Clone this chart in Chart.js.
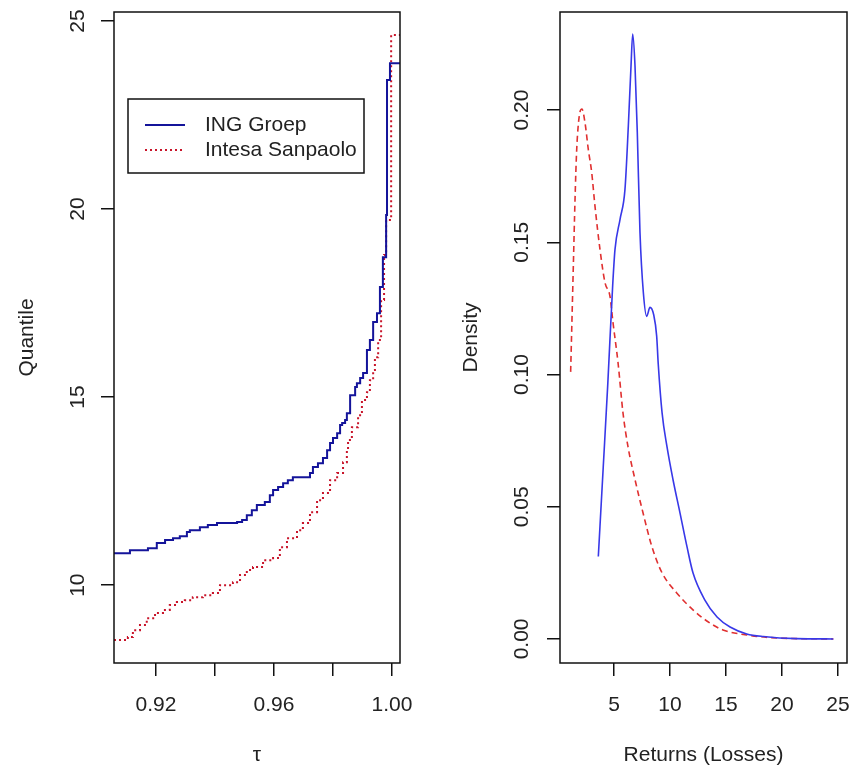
<!DOCTYPE html>
<html>
<head>
<meta charset="utf-8">
<script src="https://cdn.jsdelivr.net/npm/chart.js@4.4.1/dist/chart.umd.min.js"></script>
<style>
  body { margin: 0; background: #fff; }
  #wrap { position: relative; width: 852px; height: 769px; }
  canvas { position: absolute; top: 0; }
  #left { left: 0; }
  #right { left: 426px; }
</style>
</head>
<body>
<div id="wrap">
  <canvas id="left" width="426" height="769"></canvas>
  <canvas id="right" width="426" height="769"></canvas>
</div>
<script>
// left panel: empirical quantiles (step functions)
var tauIng = [0.9058, 0.9112, 0.9173, 0.9203, 0.9231, 0.9258, 0.9281, 0.9305, 0.9315, 0.9349,
  0.9376, 0.9407, 0.9475, 0.9492, 0.9508, 0.9525, 0.9542, 0.9569, 0.9586, 0.9597,
  0.9614, 0.9631, 0.9647, 0.9664, 0.9722, 0.9732, 0.9749, 0.9766, 0.9780, 0.9790,
  0.9800, 0.9814, 0.9824, 0.9831, 0.9841, 0.9847, 0.9858, 0.9875, 0.9881, 0.9892,
  0.9902, 0.9915, 0.9925, 0.9936, 0.9949, 0.9959, 0.9969, 0.9980, 0.9983, 0.9993, 1.0027];
var qIng = [10.85, 10.93, 10.98, 11.12, 11.20, 11.25, 11.30, 11.41, 11.46, 11.54,
  11.60, 11.65, 11.68, 11.73, 11.86, 11.99, 12.13, 12.21, 12.39, 12.53,
  12.61, 12.71, 12.79, 12.87, 12.98, 13.14, 13.24, 13.38, 13.59, 13.78,
  13.91, 14.04, 14.26, 14.31, 14.39, 14.57, 15.05, 15.27, 15.37, 15.51,
  15.64, 16.25, 16.52, 17.00, 17.23, 17.93, 18.72, 19.84, 23.43, 23.88, 23.88];

var tauIsp = [0.9058, 0.9092, 0.9105, 0.9122, 0.9146, 0.9169, 0.9197, 0.9224, 0.9247, 0.9271,
  0.9298, 0.9325, 0.9359, 0.9393, 0.9417, 0.9461, 0.9485, 0.9508, 0.9529, 0.9563,
  0.9597, 0.9620, 0.9644, 0.9678, 0.9698, 0.9722, 0.9746, 0.9766, 0.9790, 0.9814,
  0.9834, 0.9847, 0.9851, 0.9864, 0.9885, 0.9898, 0.9915, 0.9925, 0.9936, 0.9942,
  0.9953, 0.9963, 0.9973, 0.9980, 0.9997, 1.0027];
var qIsp = [8.54, 8.54, 8.62, 8.80, 8.94, 9.12, 9.26, 9.34, 9.47, 9.55,
  9.60, 9.68, 9.73, 9.79, 10.00, 10.08, 10.27, 10.40, 10.48, 10.66,
  10.72, 11.01, 11.25, 11.46, 11.65, 11.94, 12.26, 12.45, 12.79, 12.98,
  13.27, 13.59, 13.86, 14.20, 14.52, 14.92, 15.13, 15.45, 15.72, 16.06,
  16.52, 17.58, 18.78, 19.71, 24.63, 24.63];

var tauTicks = [0.92, 0.94, 0.96, 0.98, 1.00];
var tauTickLabels = ['0.92', '', '0.96', '', '1.00'];
var quantTicks = [10, 15, 20, 25];

// right panel: density of losses
var retIng = [3.60, 4.04, 4.44, 4.88, 5.09, 5.54, 5.98, 6.28, 6.52, 6.67,
  6.875, 7.08, 7.32, 7.62, 7.92, 8.21, 8.55, 8.81, 8.95, 9.29,
  9.73, 10.27, 10.89, 11.52, 12.05, 13.1, 14.2, 15.36, 16.85, 18.33, 21.3, 24.58];
var densIng = [0.0312, 0.065, 0.096, 0.1335, 0.1473, 0.1587, 0.170, 0.194, 0.2168, 0.2288,
  0.2168, 0.1916, 0.1537, 0.131, 0.122, 0.1254, 0.1225, 0.1145, 0.104, 0.0856,
  0.0727, 0.0602, 0.0477, 0.0348, 0.025, 0.0148, 0.0083, 0.0045, 0.0019, 0.0009, 0.0001, 0.0];

var retIsp = [1.13, 1.37, 1.52, 1.67, 1.90, 2.14, 2.41, 2.71, 3.01, 3.30,
  3.75, 4.20, 4.64, 4.91, 5.36, 5.80, 6.25, 6.88, 7.59, 8.39,
  9.29, 10.6, 12.05, 13.57, 14.73, 16.85, 19.82, 24.58];
var densIsp = [0.101, 0.141, 0.166, 0.185, 0.1978, 0.2004, 0.1953, 0.185, 0.1764, 0.1638,
  0.1473, 0.1347, 0.1296, 0.1197, 0.1045, 0.0856, 0.0727, 0.0602, 0.0477, 0.0348,
  0.025, 0.0174, 0.011, 0.006, 0.0034, 0.0015, 0.0003, 0.0];

var retTicks = [5, 10, 15, 20, 25];
var densTicks = [0, 0.05, 0.10, 0.15, 0.20];
var densTickLabels = ['0.00', '0.05', '0.10', '0.15', '0.20'];

Chart.defaults.font.family = '"Liberation Sans", Arial, sans-serif';
Chart.defaults.font.size = 21;
Chart.defaults.color = '#222';

function pts(xs, ys) {
  return xs.map(function (x, i) { return {x: x, y: ys[i]}; });
}

function fixTicks(values) {
  return function (scale) {
    scale.ticks = values.map(function (v) { return {value: v}; });
  };
}

function fixSize(w, h) {
  return function (scale) {
    if (w) scale.width = w;
    if (h) scale.height = h;
    scale.paddingTop = 0; scale.paddingBottom = 0;
    scale.paddingLeft = 0; scale.paddingRight = 0;
  };
}

var boxFrame = {
  id: 'boxFrame',
  afterDraw: function (chart) {
    var a = chart.chartArea, ctx = chart.ctx;
    ctx.save();
    ctx.strokeStyle = '#111';
    ctx.lineWidth = 1.5;
    ctx.strokeRect(a.left, a.top, a.right - a.left, a.bottom - a.top);
    ctx.restore();
  }
};

var legendBox = {
  id: 'legendBox',
  afterDraw: function (chart) {
    var ctx = chart.ctx;
    ctx.save();
    ctx.fillStyle = '#fff';
    ctx.fillRect(128, 99, 236, 74);
    ctx.strokeStyle = '#111';
    ctx.lineWidth = 1.5;
    ctx.strokeRect(128, 99, 236, 74);
    chart.data.datasets.forEach(function (ds, i) {
      var y = 125 + i * 25;
      ctx.strokeStyle = ds.borderColor;
      ctx.lineWidth = ds.borderWidth;
      ctx.setLineDash(ds.borderDash || []);
      ctx.beginPath(); ctx.moveTo(145, y); ctx.lineTo(185, y); ctx.stroke();
      ctx.setLineDash([]);
      ctx.fillStyle = '#222';
      ctx.font = '21px "Liberation Sans", Arial, sans-serif';
      ctx.textBaseline = 'middle';
      ctx.fillText(ds.label, 205, y);
    });
    ctx.restore();
  }
};

var tickGrid = {drawOnChartArea: false, drawTicks: true, tickLength: 13, color: '#111', lineWidth: 1.5};

// left: quantile plot
new Chart(document.getElementById('left'), {
  type: 'line',
  data: {
    datasets: [
      {
        label: 'ING Groep',
        data: pts(tauIng, qIng),
        borderColor: '#14149a',
        borderWidth: 2,
        stepped: true,
        pointRadius: 0,
        fill: false
      },
      {
        label: 'Intesa Sanpaolo',
        data: pts(tauIsp, qIsp),
        borderColor: '#c8142a',
        borderWidth: 2,
        borderDash: [2, 3],
        stepped: true,
        pointRadius: 0,
        fill: false
      }
    ]
  },
  options: {
    responsive: false,
    animation: false,
    layout: {padding: {left: 0, top: 12, right: 26, bottom: 0}},
    plugins: {legend: {display: false}, tooltip: {enabled: false}},
    scales: {
      x: {
        type: 'linear',
        min: 0.9058,
        max: 1.0027,
        afterBuildTicks: fixTicks(tauTicks),
        afterFit: fixSize(0, 106),
        border: {display: false},
        grid: tickGrid,
        ticks: {
          padding: 17,
          autoSkip: false,
          maxRotation: 0,
          callback: function (v, i) { return tauTickLabels[i]; }
        },
        title: {display: true, text: 'τ', padding: {top: 0, bottom: 1}}
      },
      y: {
        min: 7.93,
        max: 25.24,
        afterBuildTicks: fixTicks(quantTicks),
        afterFit: fixSize(114, 0),
        border: {display: false},
        grid: tickGrid,
        ticks: {
          padding: 11,
          autoSkip: false,
          minRotation: 90,
          maxRotation: 90,
          crossAlign: 'center',
          callback: function (v) { return String(v); }
        },
        title: {display: true, text: 'Quantile', padding: {top: 15, bottom: 0}}
      }
    }
  },
  plugins: [boxFrame, legendBox]
});

// right: density plot
new Chart(document.getElementById('right'), {
  type: 'line',
  data: {
    datasets: [
      {
        label: 'ING Groep',
        data: pts(retIng, densIng),
        borderColor: '#3838e8',
        borderWidth: 1.6,
        cubicInterpolationMode: 'monotone',
        pointRadius: 0,
        fill: false
      },
      {
        label: 'Intesa Sanpaolo',
        data: pts(retIsp, densIsp),
        borderColor: '#e03030',
        borderWidth: 1.6,
        borderDash: [6, 4],
        cubicInterpolationMode: 'monotone',
        pointRadius: 0,
        fill: false
      }
    ]
  },
  options: {
    responsive: false,
    animation: false,
    layout: {padding: {left: 0, top: 12, right: 5, bottom: 0}},
    plugins: {legend: {display: false}, tooltip: {enabled: false}},
    scales: {
      x: {
        type: 'linear',
        min: 0.18,
        max: 25.8,
        afterBuildTicks: fixTicks(retTicks),
        afterFit: fixSize(0, 106),
        border: {display: false},
        grid: tickGrid,
        ticks: {
          padding: 17,
          autoSkip: false,
          maxRotation: 0,
          callback: function (v) { return String(v); }
        },
        title: {display: true, text: 'Returns (Losses)', padding: {top: 0, bottom: 1}}
      },
      y: {
        min: -0.0091,
        max: 0.2371,
        afterBuildTicks: fixTicks(densTicks),
        afterFit: fixSize(134, 0),
        border: {display: false},
        grid: tickGrid,
        ticks: {
          padding: 4,
          autoSkip: false,
          minRotation: 90,
          maxRotation: 90,
          crossAlign: 'center',
          callback: function (v, i) { return densTickLabels[i]; }
        },
        title: {display: true, text: 'Density', padding: {top: 33, bottom: 0}}
      }
    }
  },
  plugins: [boxFrame]
});
</script>
</body>
</html>
